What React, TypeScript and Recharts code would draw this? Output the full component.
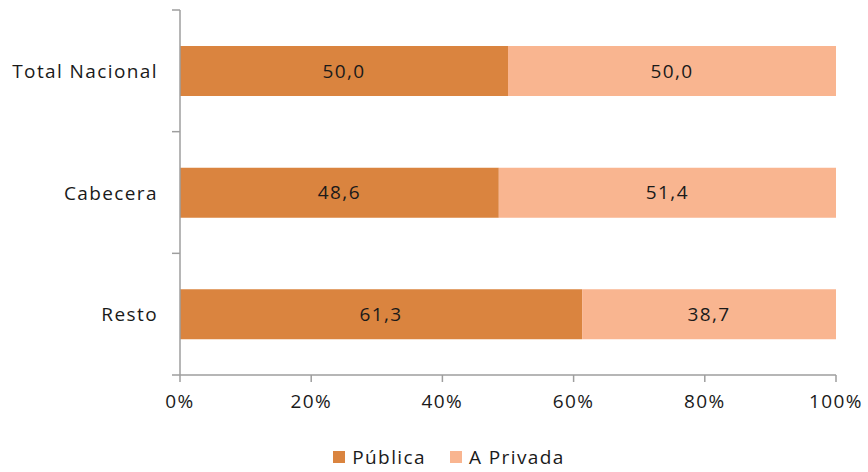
import React from "react";
import { BarChart, Bar, XAxis, YAxis, Legend, LabelList } from "recharts";

const categories = ["Total Nacional", "Cabecera", "Resto"];
const publica = [50.0, 48.6, 61.3];
const privada = [50.0, 51.4, 38.7];
const xTicks = [0, 20, 40, 60, 80, 100];

const data = categories.map((c, i) => ({ name: c, publica: publica[i], privada: privada[i] }));

const C_PUB = "#DA843F";
const C_PRI = "#F9B590";
const AXIS = "#9E9E9E";
const FONT = "'Open Sans', sans-serif";

const YTick = (props: any) => {
  const { x, y, payload, index, visibleTicksCount } = props;
  const off = payload.offset || 0;
  const ax = x + 8;
  const isLast = index === (visibleTicksCount ?? 3) - 1;
  return (
    <g>
      <line x1={ax - 8} x2={ax} y1={y - off} y2={y - off} stroke={AXIS} strokeWidth={1.5} />
      {isLast && <line x1={ax - 8} x2={ax} y1={y + off} y2={y + off} stroke={AXIS} strokeWidth={1.5} />}
      <text x={ax - 22} y={y} dy={7} textAnchor="end" fill="#1a1a1a" fontSize={19} fontFamily={FONT} letterSpacing={1.4}>
        {payload.value}
      </text>
    </g>
  );
};

const LegendContent = () => (
  <div style={{ display: "flex", justifyContent: "center", paddingLeft: 30, fontFamily: FONT, fontSize: 19, letterSpacing: 1.4, color: "#1a1a1a" }}>
    <span style={{ display: "flex", alignItems: "center", marginRight: 24 }}>
      <span style={{ width: 12, height: 12, background: C_PUB, display: "inline-block", marginRight: 7 }} />
      Pública
    </span>
    <span style={{ display: "flex", alignItems: "center" }}>
      <span style={{ width: 12, height: 12, background: C_PRI, display: "inline-block", marginRight: 7 }} />
      A Privada
    </span>
  </div>
);

const fmt = (v: any) => Number(v).toFixed(1).replace(".", ",");

export default function App() {
  return (
    <div style={{ position: "absolute", left: 0, top: 0, background: "#fff" }}>
      <BarChart
        width={868}
        height={472}
        data={data}
        layout="vertical"
        margin={{ top: 10, right: 32, left: 0, bottom: 31 }}
        barSize={50}
      >
        <XAxis
          type="number"
          domain={[0, 100]}
          ticks={xTicks}
          tickFormatter={(v) => `${v}%`}
          axisLine={{ stroke: AXIS, strokeWidth: 1.5 }}
          tickLine={{ stroke: AXIS, strokeWidth: 1.5 }}
          tickSize={7}
          tick={{ fill: "#1a1a1a", fontSize: 19, fontFamily: FONT, letterSpacing: 1.4 }}
          tickMargin={13}
          height={40}
          interval={0}
        />
        <YAxis
          type="category"
          dataKey="name"
          width={180}
          axisLine={{ stroke: AXIS, strokeWidth: 1.5 }}
          tickLine={false}
          tick={<YTick />}
          interval={0}
        />
        <Legend verticalAlign="bottom" content={<LegendContent />} wrapperStyle={{ left: 0, width: 868, bottom: 2 }} />
        <Bar dataKey="publica" stackId="a" fill={C_PUB} isAnimationActive={false}>
          <LabelList dataKey="publica" position="center" formatter={fmt} fill="#1a1a1a" fontSize={19} fontFamily={FONT} letterSpacing={1.4} />
        </Bar>
        <Bar dataKey="privada" stackId="a" fill={C_PRI} isAnimationActive={false}>
          <LabelList dataKey="privada" position="center" formatter={fmt} fill="#1a1a1a" fontSize={19} fontFamily={FONT} letterSpacing={1.4} />
        </Bar>
      </BarChart>
    </div>
  );
}
